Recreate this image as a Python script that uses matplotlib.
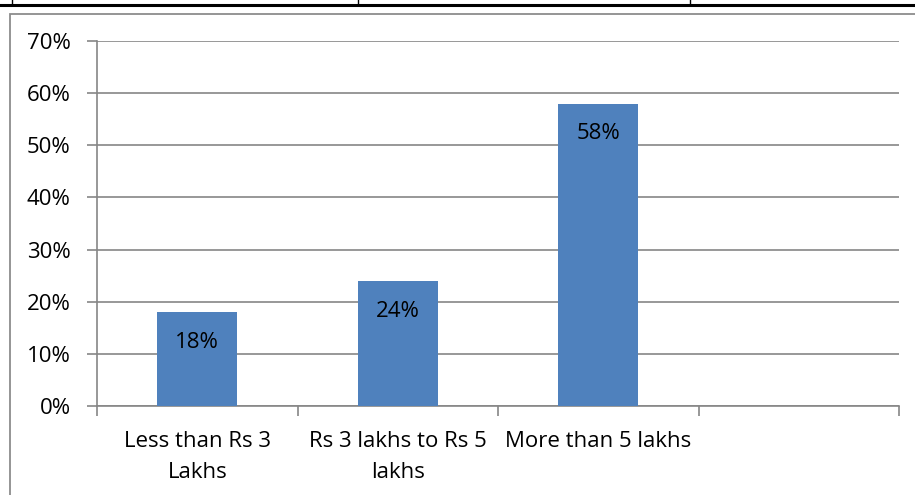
import matplotlib.pyplot as plt
from matplotlib.lines import Line2D
from matplotlib.patches import Rectangle

# data
categorias = ["Less than Rs 3\nLakhs", "Rs 3 lakhs to Rs 5\nlakhs", "More than 5 lakhs", ""]
valores = [0.18, 0.24, 0.58, None]
etiquetas = ["18%", "24%", "58%", ""]
ticks_y = [0, 0.1, 0.2, 0.3, 0.4, 0.5, 0.6, 0.7]
ticks_y_txt = ["0%", "10%", "20%", "30%", "40%", "50%", "60%", "70%"]

plt.rcParams["font.family"] = ["Open Sans", "DejaVu Sans"]

fig = plt.figure(figsize=(9.15, 4.95), dpi=100)

# table border remnants above the chart
fig.add_artist(Line2D([0, 1], [1 - 5 / 495, 1 - 5 / 495], color="black", lw=2.2))
for xp in [12, 358, 690]:
    fig.add_artist(Line2D([xp / 915, xp / 915], [1 - 5 / 495, 1], color="black", lw=1))
# chart frame
fig.add_artist(Rectangle((10 / 915, -0.05), 1.2, 1 - 14 / 495 + 0.05,
                         fill=False, edgecolor="#8c8c8c", lw=1.3))

ax = fig.add_axes([97 / 915, 1 - 406 / 495, 802 / 915, 365 / 495])

pos = list(range(len(categorias)))
alturas = [v if v is not None else 0 for v in valores]
barras = ax.bar(pos, alturas, width=0.4, color="#4f81bd", zorder=3)

for x, v, t in zip(pos, valores, etiquetas):
    if v is None:
        continue
    ax.text(x, v - 0.058, t, ha="center", va="center", fontsize=16, color="black", zorder=4)

ax.set_xlim(-0.5, 3.5)
ax.set_ylim(0, 0.7)
ax.set_yticks(ticks_y)
ax.set_yticklabels(ticks_y_txt, fontsize=16)
ax.set_xticks([p - 0.5 for p in pos] + [3.5])
ax.set_xticklabels([])
ax.set_xticks(pos, minor=True)
ax.set_xticklabels(categorias, minor=True, fontsize=16, linespacing=1.65)
ax.tick_params(axis="x", which="minor", length=0, pad=18)
ax.tick_params(axis="x", which="major", length=7, color="#868686", width=1.2)
ax.tick_params(axis="y", length=7, color="#868686", width=1.2, pad=12)

ax.grid(axis="y", color="#868686", lw=1.2, zorder=0)
for s in ["top", "right"]:
    ax.spines[s].set_visible(False)
for s in ["left", "bottom"]:
    ax.spines[s].set_color("#868686")
    ax.spines[s].set_linewidth(1.2)

fig.savefig("out.png", dpi=100)
